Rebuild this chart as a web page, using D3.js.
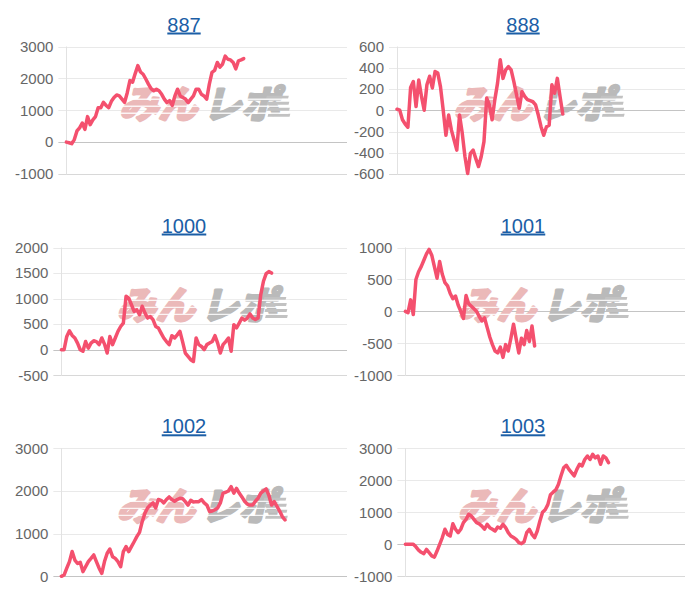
<!DOCTYPE html>
<html>
<head>
<meta charset="utf-8">
<script src="https://cdn.jsdelivr.net/npm/d3@7/dist/d3.min.js"></script>
<style>
  html, body { margin: 0; padding: 0; background: #fff; }
  svg { display: block; }
</style>
</head>
<body>
<svg id="chart" width="700" height="600"></svg>
<script>
// ---------------- DATA ----------------
const titles = ["887", "888", "1000", "1001", "1002", "1003"];
const xSlotCount = 107; // number of category slots on every x axis

const series887 = [0,-20,-50,80,350,450,600,400,800,550,700,800,1080,1080,1250,1150,1080,1280,1400,1480,1450,1350,1250,1550,1930,1880,2150,2400,2200,2130,1980,1820,1680,1610,1660,1610,1500,1350,1240,1300,1150,1450,1660,1450,1400,1350,1240,1350,1450,1660,1660,1500,1450,1350,1820,2190,2250,2500,2350,2450,2700,2600,2580,2500,2300,2550,2580,2620];
const series888 = [10,0,-90,-130,-160,215,270,35,285,130,0,240,320,210,365,350,220,0,-235,-45,-185,-280,-375,-45,-215,-435,-595,-405,-375,-455,-530,-435,-295,115,50,-90,100,255,475,300,380,410,380,270,145,20,175,130,100,90,80,50,-45,-155,-235,-155,-140,240,160,300,130,-35];
const series1000 = [0,0,260,370,280,230,130,0,-30,160,30,130,175,160,100,230,110,-65,260,100,230,360,455,520,1045,1010,880,750,780,685,850,720,620,650,590,455,425,325,230,160,100,275,230,290,360,155,-65,-130,-195,-230,230,100,65,0,100,130,160,275,130,-65,100,160,230,-30,490,425,520,620,580,620,700,620,590,620,1080,1340,1490,1530,1500];
const series1001 = [0,-20,180,-50,500,620,700,800,900,970,880,700,520,780,580,450,400,280,200,240,100,0,-110,250,120,80,40,0,-80,-150,-100,-250,-400,-520,-620,-650,-560,-720,-520,-620,-420,-200,-430,-650,-420,-520,-300,-470,-230,-540];
const series1002 = [0,30,190,345,580,380,300,330,110,225,345,420,500,345,190,70,345,540,640,460,420,345,225,580,695,580,695,810,930,1030,1280,1480,1600,1670,1720,1600,1800,1780,1720,1800,1860,1800,1760,1800,1830,1820,1750,1670,1780,1740,1750,1750,1800,1720,1670,1520,1530,1560,1600,1720,1950,1970,2000,2100,1950,2060,1950,1860,1760,1690,1670,1670,1760,1830,1950,2000,2050,1900,1670,1750,1640,1530,1400,1320];
const series1003 = [0,0,0,0,-80,-180,-250,-290,-160,-260,-360,-400,-210,0,210,470,310,260,640,470,365,470,675,780,940,885,780,675,640,570,470,625,520,470,415,540,500,625,520,365,260,210,155,50,20,80,365,470,310,210,415,730,1000,1080,1240,1550,1630,1700,1870,2140,2390,2470,2340,2240,2140,2340,2500,2450,2650,2760,2650,2810,2700,2760,2500,2760,2700,2550];

const yTicks887  = [-1000, 0, 1000, 2000, 3000];
const yTicks888  = [-600, -400, -200, 0, 200, 400, 600];
const yTicks1000 = [-500, 0, 500, 1000, 1500, 2000];
const yTicks1001 = [-1000, -500, 0, 500, 1000];
const yTicks1002 = [0, 1000, 2000, 3000];
const yTicks1003 = [-1000, 0, 1000, 2000, 3000];

const allSeries = [series887, series888, series1000, series1001, series1002, series1003];
const allTicks  = [yTicks887, yTicks888, yTicks1000, yTicks1001, yTicks1002, yTicks1003];

// ---------------- LAYOUT ----------------
const colLabelLeft = [15, 354];
const colPlotRight = [347, 685];
const colTitleX    = [184, 523];
const rowTop       = [46.5, 247.5, 448.3];
const rowBottom    = [174, 375.3, 576.3];
const labelGap = 13;
const fontFamily = "'Liberation Sans', Arial, Helvetica, sans-serif";
const lineColor = "#f4506e";

const svg = d3.select("#chart");

const meas = svg.append("text").attr("font-family", fontFamily).attr("font-size", 15).attr("visibility", "hidden");
function textWidth(s) { meas.text(s); return meas.node().getComputedTextLength(); }

titles.forEach((title, i) => {
  const col = i % 2, row = Math.floor(i / 2);
  const data = allSeries[i];
  const ticks = allTicks[i];
  const maxW = d3.max(ticks, t => textWidth(String(t)));
  const left = colLabelLeft[col] + maxW + labelGap;
  const right = colPlotRight[col];
  const top = rowTop[row], bottom = rowBottom[row];

  const x = d3.scaleLinear().domain([0, xSlotCount - 1]).range([left, right]);
  const y = d3.scaleLinear().domain(d3.extent(ticks)).range([bottom, top]);

  const g = svg.append("g");

  // title
  g.append("text")
    .attr("x", colTitleX[col]).attr("y", top - 15)
    .attr("text-anchor", "middle")
    .attr("font-family", fontFamily).attr("font-size", 20)
    .attr("fill", "#1b5ea6")
    .attr("text-decoration", "underline")
    .text(title);

  // y axis
  const axis = d3.axisLeft(y).tickValues(ticks).tickSize(0).tickPadding(labelGap).tickFormat(d => String(d));
  const ag = g.append("g").attr("transform", `translate(${left},0)`).call(axis);
  ag.select(".domain").remove();
  ag.selectAll("text")
    .attr("font-family", fontFamily).attr("font-size", 15).attr("fill", "#666");

  // grid lines
  g.append("g").selectAll("line").data(ticks).join("line")
    .attr("x1", left - 8).attr("x2", right)
    .attr("y1", d => Math.round(y(d)) + 0.5).attr("y2", d => Math.round(y(d)) + 0.5)
    .attr("stroke", d => d === 0 ? "#c4c4c4" : (d === ticks[0] ? "#d8d8d8" : "#e9e9e9"))
    .attr("stroke-width", 1);

  // vertical axis line
  g.append("line")
    .attr("x1", Math.round(left) + 0.5).attr("x2", Math.round(left) + 0.5)
    .attr("y1", top).attr("y2", bottom + 0.5)
    .attr("stroke", "#e2e2e2");

  // watermark
  const cx = (left + right) / 2 - 4, cy = (top + bottom) / 2 - 6;
  const wm = g.append("g").attr("transform", `translate(${cx},${cy}) skewX(-14)`);
  const wmFont = "'Noto Sans CJK JP', sans-serif";
  wm.append("text")
    .attr("x", -80).attr("y", 14)
    .attr("font-family", wmFont)
    .attr("font-weight", 700).attr("font-size", 38)
    .attr("textLength", 78).attr("lengthAdjust", "spacingAndGlyphs")
    .attr("fill", "#ebb9b9").attr("stroke", "#ebb9b9").attr("stroke-width", 3).attr("stroke-linejoin", "round")
    .text("みん");
  wm.append("text")
    .attr("x", 4).attr("y", 14)
    .attr("font-family", wmFont)
    .attr("font-weight", 700).attr("font-size", 38)
    .attr("textLength", 76).attr("lengthAdjust", "spacingAndGlyphs")
    .attr("fill", "#bababa").attr("stroke", "#bababa").attr("stroke-width", 3).attr("stroke-linejoin", "round")
    .text("レポ");
  // speed stripes
  [-7, -1, 5, 11].forEach((dy, k) => {
    wm.append("rect").attr("x", 62 + k * 2).attr("y", dy - 1.5).attr("width", 22).attr("height", 3).attr("fill", "#c2c2c2");
  });
  [-5, 2, 9].forEach(dy => {
    wm.append("line").attr("x1", -85).attr("x2", 88).attr("y1", dy).attr("y2", dy)
      .attr("stroke", "#fff").attr("stroke-width", 1.3).attr("opacity", 0.85);
  });

  // data line
  const line = d3.line().x((d, k) => x(k)).y(d => y(d));
  g.append("path")
    .datum(data)
    .attr("d", line)
    .attr("fill", "none")
    .attr("stroke", lineColor)
    .attr("stroke-width", 3.5)
    .attr("stroke-linejoin", "round")
    .attr("stroke-linecap", "round");
});
meas.remove();
</script>
</body>
</html>
